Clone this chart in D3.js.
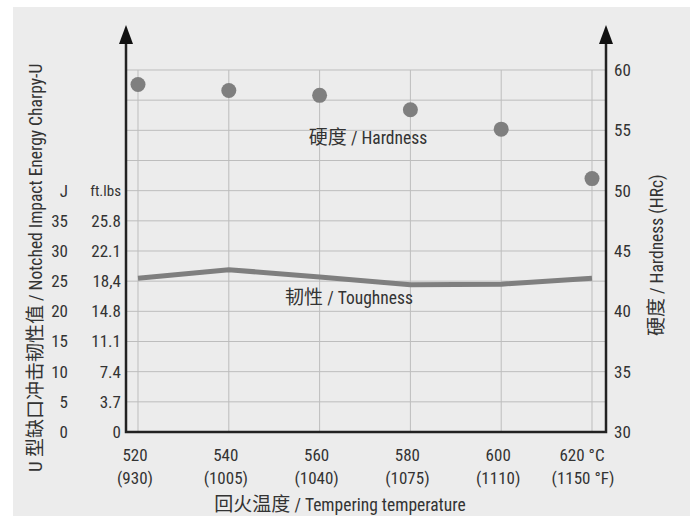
<!DOCTYPE html>
<html>
<head>
<meta charset="utf-8">
<script src="https://cdn.jsdelivr.net/npm/d3@7"></script>
<style>
  body { margin: 0; background: #fff; }
  text { font-family: "Liberation Sans Narrow", "Roboto Condensed", "DejaVu Sans Condensed", "Noto Sans CJK SC", sans-serif; fill: #333; }
</style>
</head>
<body>
<div id="chart"></div>
<script>
const width = 694
const height = 516

// temperaturas de revenido
const temps = [520, 540, 560, 580, 600, 620]
const tempLabelsC = ["520", "540", "560", "580", "600", "620 °C"]
const tempLabelsF = ["(930)", "(1005)", "(1040)", "(1075)", "(1110)", "(1150 °F)"]

// series
const hardness = [58.8, 58.3, 57.9, 56.7, 55.1, 51.0]
const toughness = [25.5, 26.9, 25.7, 24.4, 24.5, 25.5]

// ticks
const ticksJ = [0, 5, 10, 15, 20, 25, 30, 35]
const ticksFtLbs = ["0", "3.7", "7.4", "11.1", "14.8", "18,4", "22.1", "25.8"]
const ticksHRc = [30, 35, 40, 45, 50, 55, 60]
const gridJ = [0, 5, 10, 15, 20, 25, 30, 35, 40, 45, 50, 55, 60]

const color_marks = "#7f7f7f"
const color_axis = "#222"
const color_grid = "#bdbdbd"

const svg = d3.select("#chart").append("svg")
    .attr("width", width)
    .attr("height", height)

svg.append("rect")
    .attr("x", 13).attr("y", 7)
    .attr("width", 677).attr("height", 509)
    .attr("fill", "#ececec")

const x = d3.scaleLinear().domain([520, 620]).range([138, 592])
const yJ = d3.scaleLinear().domain([0, 60]).range([432, 70])
const yH = d3.scaleLinear().domain([30, 60]).range([432, 70])

const xLeft = 126
const xRight = 606

// grid
const grid = svg.append("g").attr("id", "grid")
grid.selectAll(".h")
    .data(gridJ)
    .join("line")
    .attr("x1", xLeft).attr("x2", xRight)
    .attr("y1", d => yJ(d)).attr("y2", d => yJ(d))
    .attr("stroke", color_grid)
    .attr("stroke-width", 1)
grid.selectAll(".v")
    .data(temps)
    .join("line")
    .attr("x1", d => x(d)).attr("x2", d => x(d))
    .attr("y1", yJ(60)).attr("y2", yJ(0))
    .attr("stroke", color_grid)
    .attr("stroke-width", 1)

// ejes con flechas
const axes = svg.append("g").attr("id", "axes")
axes.append("path")
    .attr("d", `M${xLeft},40 V${yJ(0)} H${xRight} V40`)
    .attr("fill", "none")
    .attr("stroke", color_axis)
    .attr("stroke-width", 2.5)
axes.selectAll(".arrow")
    .data([xLeft, xRight])
    .join("path")
    .attr("d", d => `M${d},25 L${d + 7},44 L${d - 7},44 Z`)
    .attr("fill", "#111")

// toughness line
const line = d3.line()
    .x((d, i) => x(temps[i]))
    .y(d => yJ(d))
svg.append("path")
    .datum(toughness)
    .attr("d", line)
    .attr("fill", "none")
    .attr("stroke", color_marks)
    .attr("stroke-width", 5)

// hardness points
svg.selectAll(".punto")
    .data(hardness)
    .join("circle")
    .attr("cx", (d, i) => x(temps[i]))
    .attr("cy", d => yH(d))
    .attr("r", 7.5)
    .attr("fill", color_marks)

// etiquetas eje izquierdo
const left = svg.append("g").attr("font-size", 17)
left.selectAll(".j")
    .data(ticksJ)
    .join("text")
    .attr("x", 68)
    .attr("y", d => yJ(d))
    .attr("dy", "0.35em")
    .attr("text-anchor", "end")
    .text(d => d)
left.selectAll(".ft")
    .data(ticksFtLbs)
    .join("text")
    .attr("x", 121)
    .attr("y", (d, i) => yJ(ticksJ[i]))
    .attr("dy", "0.35em")
    .attr("text-anchor", "end")
    .text(d => d)
left.append("text")
    .attr("x", 68).attr("y", yJ(40)).attr("dy", "0.35em")
    .attr("text-anchor", "end").text("J")
left.append("text")
    .attr("x", 121).attr("y", yJ(40)).attr("dy", "0.35em")
    .attr("text-anchor", "end").attr("font-size", 15).text("ft.lbs")

// etiquetas eje derecho
svg.append("g").attr("font-size", 17)
    .selectAll("text")
    .data(ticksHRc)
    .join("text")
    .attr("x", 614)
    .attr("y", d => yH(d))
    .attr("dy", "0.35em")
    .text(d => d)

// etiquetas eje x
const bottom = svg.append("g").attr("font-size", 17).attr("text-anchor", "middle")
bottom.selectAll(".c")
    .data(tempLabelsC)
    .join("text")
    .attr("x", (d, i) => x(temps[i]) - (i === temps.length - 1 ? 10 : 3))
    .attr("y", 455).attr("dy", "0.35em")
    .text(d => d)
bottom.selectAll(".f")
    .data(tempLabelsF)
    .join("text")
    .attr("x", (d, i) => x(temps[i]) - (i === temps.length - 1 ? 9 : 3))
    .attr("y", 478).attr("dy", "0.35em")
    .text(d => d)

// titulos: parte china un poco mas grande
function bilingue(sel, cjk, latin) {
    sel.append("tspan").attr("font-size", 19).text(cjk)
    sel.append("tspan").attr("font-size", 17.5).text(latin)
    return sel
}

bilingue(svg.append("text")
    .attr("x", 340).attr("y", 505).attr("dy", "0.35em")
    .attr("text-anchor", "middle"),
    "回火温度", " / Tempering temperature")

bilingue(svg.append("text")
    .attr("transform", "translate(36,472) rotate(-90)")
    .attr("dy", "0.35em"),
    "U 型缺口冲击韧性值", " / Notched Impact Energy Charpy-U")

bilingue(svg.append("text")
    .attr("transform", "translate(657,336) rotate(-90)")
    .attr("dy", "0.35em"),
    "硬度", " / Hardness (HRc)")

bilingue(svg.append("text")
    .attr("x", 368).attr("y", 138).attr("dy", "0.35em")
    .attr("text-anchor", "middle"),
    "硬度", " / Hardness")

bilingue(svg.append("text")
    .attr("x", 349).attr("y", 298).attr("dy", "0.35em")
    .attr("text-anchor", "middle"),
    "韧性", " / Toughness")
</script>
</body>
</html>
